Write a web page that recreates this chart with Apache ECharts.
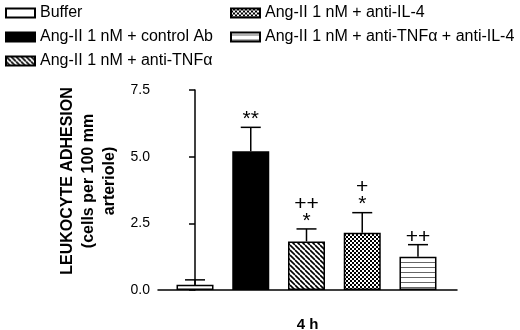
<!DOCTYPE html>
<html>
<head>
<meta charset="utf-8">
<script src="https://cdn.jsdelivr.net/npm/echarts@6/dist/echarts.min.js"></script>
<style>html,body{margin:0;padding:0;background:#fff}#main{width:520px;height:330px}</style>
</head>
<body>
<div id="main"></div>
<script>
var groups = ['Buffer', 'Ang-II 1 nM + control Ab', 'Ang-II 1 nM + anti-TNFα', 'Ang-II 1 nM + anti-IL-4', 'Ang-II 1 nM + anti-TNFα + anti-IL-4'];
var means = [0.2, 5.2, 1.82, 2.15, 1.25];
var sems = [0.18, 0.9, 0.47, 0.75, 0.45];
var stars = ['', '**', '*', '*', ''];
var plus = ['', '', '++', '+', '++'];
var yMin = 0, yMax = 7.5, yStep = 2.5;
var timeLabel = '4 h';

var FONT = 'Liberation Sans, Arial, Helvetica, sans-serif';

// fill patterns for the bars
function makePattern(w, h, draw) {
    var c = document.createElement('canvas');
    c.width = w; c.height = h;
    var ctx = c.getContext('2d');
    ctx.fillStyle = '#fff';
    ctx.fillRect(0, 0, w, h);
    draw(ctx, w, h);
    return {image: c, repeat: 'repeat'};
}
var diagonal = makePattern(5, 5, function (ctx, w, h) {
    ctx.strokeStyle = '#000';
    ctx.lineWidth = 1.6;
    ctx.beginPath();
    [-w, 0, w].forEach(function (k) {
        ctx.moveTo(k, 0);
        ctx.lineTo(k + w, h);
    });
    ctx.stroke();
});
var checker = makePattern(4, 4, function (ctx) {
    ctx.fillStyle = '#000';
    ctx.fillRect(2, 0, 2, 2);
    ctx.fillRect(0, 2, 2, 2);
});
var stripes = makePattern(5, 5, function (ctx, w) {
    ctx.fillStyle = '#666';
    ctx.fillRect(0, 2, w, 1);
});
var fills = ['#fff', '#000', diagonal, checker, stripes];

var series = groups.map(function (g, i) {
    return {
        name: g,
        type: 'bar',
        barWidth: 37,
        barGap: '-100%',
        itemStyle: {color: fills[i], borderColor: '#000', borderWidth: 1.5},
        data: [[i, means[i]]]
    };
});

// error bars (upper half only) and significance marks
series.push({
    type: 'custom',
    z: 5,
    data: means.map(function (m, i) { return [i, m, sems[i]]; }),
    renderItem: function (params, api) {
        var i = params.dataIndex;
        var x = api.value(0), m = api.value(1), e = api.value(2);
        var base = api.coord([x, m]);
        var top = api.coord([x, m + e]);
        var kids = [
            {type: 'line', shape: {x1: base[0], y1: base[1], x2: top[0], y2: top[1]}, style: {stroke: '#000', lineWidth: 1.5}},
            {type: 'line', shape: {x1: top[0] - 10, y1: top[1], x2: top[0] + 10, y2: top[1]}, style: {stroke: '#000', lineWidth: 1.5}}
        ];
        var py = top[1] - 7;
        if (stars[i]) {
            kids.push({type: 'text', x: top[0], y: top[1] - 8,
                style: {text: stars[i], fill: '#000', font: '21px ' + FONT, align: 'center', verticalAlign: 'middle'}});
            py = top[1] - 25;
        }
        if (plus[i]) {
            kids.push({type: 'text', x: top[0], y: py,
                style: {text: plus[i], fill: '#000', font: '21px ' + FONT, align: 'center', verticalAlign: 'middle'}});
        }
        return {type: 'group', children: kids};
    }
});

var legendText = {color: '#000', fontSize: 16, fontFamily: FONT};

option = {
    backgroundColor: '#fff',
    animation: false,
    legend: [
        {orient: 'vertical', left: 5, top: 5, padding: 0, itemWidth: 29, itemHeight: 9, itemGap: 8,
            icon: 'rect', textStyle: legendText, data: groups.slice(0, 3)},
        {orient: 'vertical', left: 230, top: 5, padding: 0, itemWidth: 29, itemHeight: 9, itemGap: 8,
            icon: 'rect', textStyle: legendText, data: groups.slice(3)}
    ],
    grid: {left: 158, right: 63, top: 90, bottom: 40, outerBoundsMode: 'none', containLabel: false},
    xAxis: {
        type: 'value',
        min: -0.664,
        max: 4.7,
        name: timeLabel,
        nameLocation: 'middle',
        nameGap: 27,
        nameTextStyle: {color: '#000', fontSize: 15, fontWeight: 'bold', fontFamily: FONT},
        axisLine: {lineStyle: {color: '#000', width: 1.5}},
        axisTick: {show: false},
        axisLabel: {show: false},
        splitLine: {show: false}
    },
    yAxis: {
        type: 'value',
        min: yMin,
        max: yMax,
        interval: yStep,
        name: 'LEUKOCYTE ADHESION\n(cells per 100 mm\narteriole)',
        nameLocation: 'middle',
        nameRotate: 90,
        nameGap: 34,
        nameTextStyle: {color: '#000', fontSize: 16, fontWeight: 'bold', fontFamily: FONT, lineHeight: 21, padding: [0, 0, 0, 18]},
        axisLine: {show: true, lineStyle: {color: '#000', width: 1.5}},
        axisTick: {show: true, length: 6, lineStyle: {color: '#000', width: 1.5}},
        axisLabel: {color: '#000', fontSize: 14, fontFamily: FONT, margin: 8,
            formatter: function (v) { return v.toFixed(1); }},
        splitLine: {show: false}
    },
    series: series
};

var myChart = echarts.init(document.getElementById('main'));
myChart.setOption(option);
</script>
</body>
</html>
